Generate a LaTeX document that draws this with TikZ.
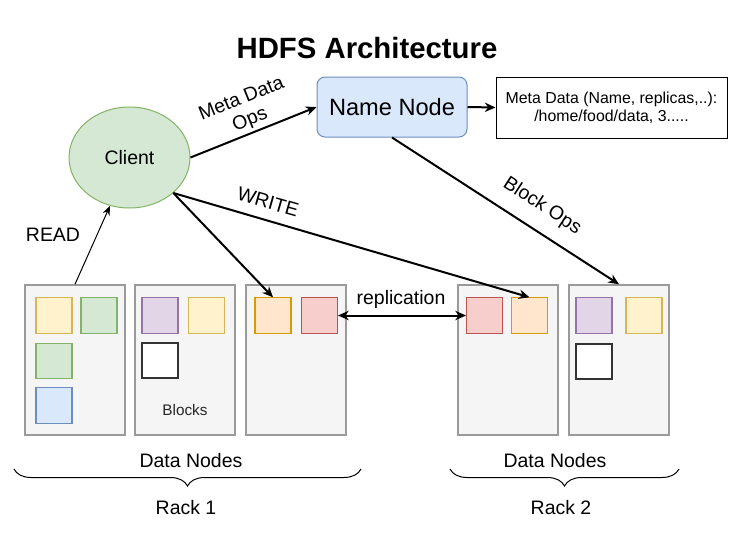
\documentclass[tikz,border=0pt]{standalone}
\usepackage{fontspec}
\setmainfont{Liberation Sans}
\usetikzlibrary{arrows.meta,decorations.pathreplacing,shapes.geometric}
\definecolor{gfill}{HTML}{D5E8D4}\definecolor{gline}{HTML}{82B366}
\definecolor{bfill}{HTML}{DAE8FC}\definecolor{bline}{HTML}{6C8EBF}
\definecolor{yfill}{HTML}{FFF2CC}\definecolor{yline}{HTML}{D6B656}
\definecolor{pfill}{HTML}{E1D5E7}\definecolor{pline}{HTML}{9673A6}
\definecolor{ofill}{HTML}{FFE6CC}\definecolor{oline}{HTML}{D79B00}
\definecolor{rfill}{HTML}{F8CECC}\definecolor{rline}{HTML}{B85450}
\definecolor{dnfill}{HTML}{F5F5F5}\definecolor{dnline}{HTML}{9A9A9A}
\tikzset{
  txt/.style={font=\fontsize{14.6}{17}\selectfont, inner sep=0pt},
  dnbox/.style={draw=dnline, fill=dnfill, line width=1.1pt, minimum width=75pt, minimum height=112.5pt, inner sep=0pt},
  blk/.style={line width=0.8pt, minimum width=27pt, minimum height=26.5pt, inner sep=0pt},
  yblk/.style={blk, draw=yline, fill=yfill},
  gblk/.style={blk, draw=gline, fill=gfill},
  bblk/.style={blk, draw=bline, fill=bfill},
  pblk/.style={blk, draw=pline, fill=pfill},
  oblk/.style={blk, draw=oline, fill=ofill},
  rblk/.style={blk, draw=rline, fill=rfill},
  wblk/.style={blk, draw=black!80, fill=white, line width=1.1pt},
  conn/.style={line width=1.5pt, -{Stealth[length=8pt,width=7pt]}},
  thinconn/.style={line width=0.75pt, -{Stealth[length=7pt,width=5.5pt]}},
  bidir/.style={line width=1.5pt, {Stealth[length=8pt,width=7pt]}-{Stealth[length=8pt,width=7pt]}},
  rackbrace/.style={decorate, decoration={brace, mirror, amplitude=12.75pt}, line width=0.75pt},
}
\begin{document}
\begin{tikzpicture}[x=0.75pt,y=-0.75pt]
\useasboundingbox (0,0) rectangle (739,543);
% title
\node[font=\fontsize{22}{26}\selectfont\bfseries, inner sep=0pt] (title) at (367,48) {HDFS Architecture};
% main nodes
\node[ellipse, draw=gline, fill=gfill, line width=0.75pt, minimum width=90.75pt, minimum height=75.75pt, inner sep=0pt, txt] (client) at (129.5,157.5) {Client};
\node[draw=bline, fill=bfill, rounded corners=6pt, line width=0.75pt, minimum width=112.5pt, minimum height=45pt, inner sep=0pt, font=\fontsize{17.7}{21}\selectfont] (nn) at (392,107) {Name Node};
\node[draw=black, fill=white, line width=0.75pt, minimum width=173.25pt, minimum height=45.75pt, inner sep=0pt, align=center, font=\fontsize{11.9}{13.5}\selectfont] (meta) at (611.5,107.5) {Meta Data (Name, replicas,..):\\/home/food/data, 3.....};
% data node boxes
\node[dnbox] (dn1) at (75,360) {};
\node[dnbox] (dn2) at (185,360) {};
\node[dnbox] (dn3) at (296,360) {};
\node[dnbox] (dn4) at (508,360) {};
\node[dnbox] (dn5) at (619,360) {};
% blocks
\node[yblk] (b11) at (54,315.5) {};
\node[gblk] (b12) at (99,315.5) {};
\node[gblk] (b13) at (54,361) {};
\node[bblk] (b14) at (54,405.5) {};
\node[pblk] (b21) at (160,315.5) {};
\node[yblk] (b22) at (206.5,315.5) {};
\node[wblk] (b23) at (160,360.5) {};
\node[oblk] (b31) at (273,315.5) {};
\node[rblk] (b32) at (319.5,315.5) {};
\node[rblk] (b41) at (484.5,315.5) {};
\node[oblk] (b42) at (529.5,315.5) {};
\node[pblk] (b51) at (594,315.5) {};
\node[yblk] (b52) at (644,315.5) {};
\node[wblk] (b53) at (594,361.5) {};
\node[font=\fontsize{11.5}{13}\selectfont, inner sep=0pt, text=black!85] (blocks) at (185,410) {Blocks};
% connectors
\draw[conn] (client.east) -- (nn.west);
\draw[conn] (nn.east) -- (meta.west);
\draw[conn] (client.-39) -- (b31.north);
\draw[conn] (client.-39) -- (b42.north);
\draw[conn] (nn.south) -- (dn5.north);
\draw[thinconn] (dn1.north) -- (client.-112);
\draw[bidir] (b32.east) -- (b41.west);
% labels
\node[txt, align=center, rotate=22] (lmeta) at (246,110) {Meta Data\\Ops};
\node[txt, rotate=-16] (lwrite) at (268,202) {WRITE};
\node[txt, rotate=-33] (lblock) at (542,206) {Block Ops};
\node[txt] (lread) at (53,235) {READ};
\node[txt] (lrep) at (401,299) {replication};
% braces
\coordinate (r1a) at (14,469);
\coordinate (r1b) at (361,469);
\coordinate (r2a) at (450,469);
\coordinate (r2b) at (679,469);
\draw[rackbrace] (r1a) -- (r1b);
\draw[rackbrace] (r2a) -- (r2b);
\node[txt] (dnl1) at (191,461) {Data Nodes};
\node[txt] (dnl2) at (555,461) {Data Nodes};
\node[txt] (rack1) at (186,508) {Rack 1};
\node[txt] (rack2) at (561,508) {Rack 2};
\end{tikzpicture}
\end{document}
